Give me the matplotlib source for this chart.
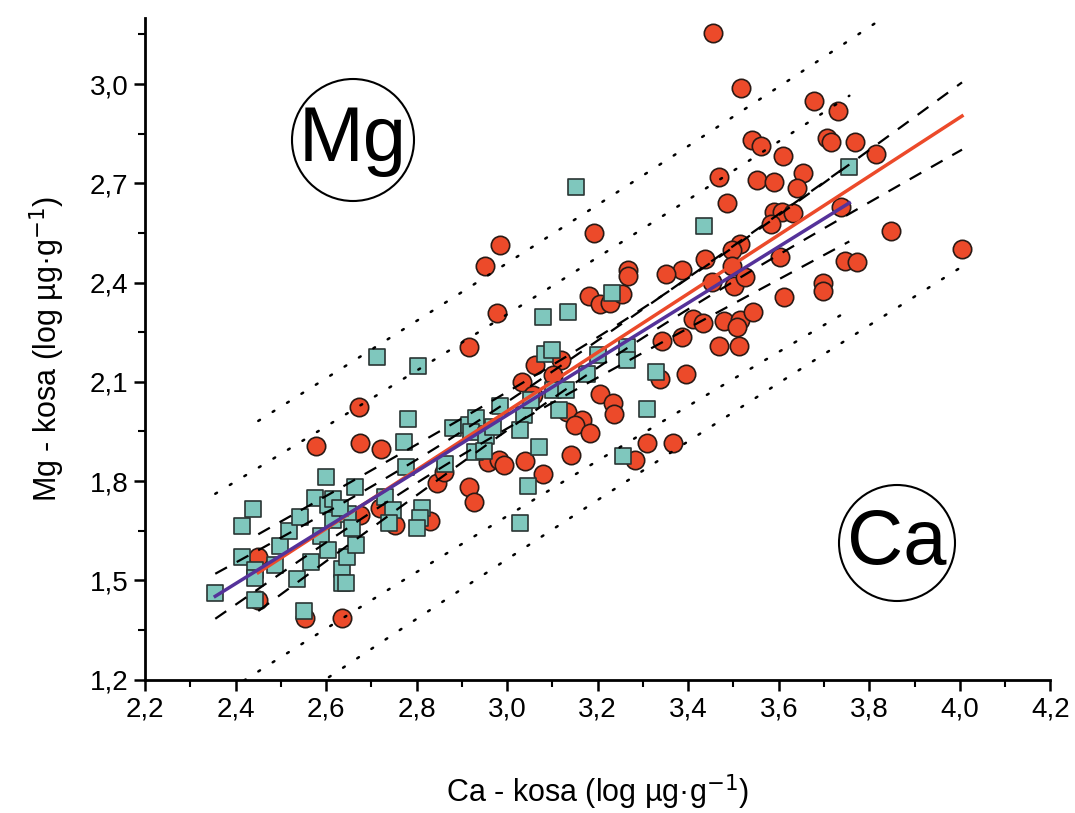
import numpy as np
import matplotlib.pyplot as plt
from matplotlib.patches import Circle
from matplotlib.ticker import MultipleLocator, FuncFormatter

# red circles: Ca (x), Mg (y), log ug/g
ca_circ = [2.673, 2.578, 2.675, 2.721, 2.450, 2.450, 2.554, 2.635, 2.675, 2.718,
           2.752, 2.977, 2.916, 3.062, 3.119, 3.102, 3.032, 3.057, 3.132, 3.165,
           3.150, 3.182, 3.204, 3.233, 3.235, 2.957, 2.981, 2.993, 3.040, 3.079,
           3.141, 3.283, 3.310, 3.367, 2.844, 2.861, 2.915, 2.926, 2.830, 3.342,
           3.485, 3.589, 3.607, 3.631, 3.583, 3.515, 3.496, 3.438, 3.386, 3.351,
           3.266, 3.266, 3.496, 3.452, 3.502, 3.526, 3.602, 3.698, 3.698, 3.611,
           3.180, 3.204, 3.228, 3.253, 3.191, 3.410, 3.432, 3.478, 3.515, 3.507,
           3.544, 3.386, 3.467, 3.513, 3.396, 3.337, 3.454, 3.517, 3.678, 3.732,
           3.541, 3.561, 3.706, 3.716, 3.609, 3.467, 3.552, 3.590, 3.653, 3.640,
           3.768, 3.815, 3.737, 3.849, 4.005, 3.747, 3.773, 2.985, 2.950]
mg_circ = [2.024, 1.906, 1.914, 1.896, 1.570, 1.441, 1.386, 1.386, 1.697, 1.718,
           1.667, 2.308, 2.205, 2.150, 2.167, 2.122, 2.100, 2.061, 2.009, 1.986,
           1.969, 1.946, 2.064, 2.036, 2.004, 1.859, 1.863, 1.850, 1.861, 1.821,
           1.878, 1.865, 1.916, 1.916, 1.793, 1.828, 1.783, 1.738, 1.680, 2.225,
           2.642, 2.612, 2.614, 2.609, 2.577, 2.518, 2.498, 2.471, 2.438, 2.426,
           2.438, 2.421, 2.451, 2.403, 2.391, 2.418, 2.478, 2.398, 2.376, 2.356,
           2.358, 2.334, 2.338, 2.366, 2.549, 2.290, 2.277, 2.285, 2.288, 2.266,
           2.312, 2.237, 2.207, 2.207, 2.123, 2.109, 3.155, 2.987, 2.950, 2.920,
           2.830, 2.813, 2.836, 2.825, 2.783, 2.718, 2.710, 2.704, 2.730, 2.685,
           2.824, 2.790, 2.627, 2.555, 2.501, 2.466, 2.461, 2.514, 2.451]

# teal squares
ca_sq = [2.355, 2.414, 2.439, 2.414, 2.443, 2.442, 2.443, 2.486, 2.498, 2.518,
         2.543, 2.535, 2.552, 2.566, 2.576, 2.600, 2.589, 2.605, 2.616, 2.615,
         2.605, 2.635, 2.635, 2.644, 2.647, 2.649, 2.666, 2.657, 2.664, 2.730,
         2.747, 2.738, 2.771, 2.777, 2.781, 2.811, 2.808, 2.800, 3.079, 3.135,
         2.804, 2.881, 2.915, 2.931, 2.920, 2.954, 2.968, 2.985, 2.929, 2.949,
         2.863, 3.038, 3.029, 3.053, 3.047, 3.029, 3.071, 3.084, 3.099, 3.101,
         3.130, 3.115, 3.176, 3.200, 3.265, 3.265, 3.329, 3.309, 3.257, 3.434,
         3.231, 3.152, 2.712, 3.756, 2.631]
mg_sq = [1.462, 1.665, 1.715, 1.570, 1.532, 1.507, 1.441, 1.547, 1.605, 1.649,
         1.692, 1.504, 1.409, 1.555, 1.748, 1.811, 1.634, 1.728, 1.745, 1.682,
         1.592, 1.534, 1.491, 1.491, 1.572, 1.701, 1.607, 1.657, 1.781, 1.753,
         1.713, 1.674, 1.917, 1.843, 1.987, 1.718, 1.688, 1.657, 2.297, 2.310,
         2.147, 1.961, 1.969, 1.992, 1.949, 1.936, 1.964, 2.026, 1.888, 1.891,
         1.853, 1.999, 1.954, 2.046, 1.785, 1.674, 1.904, 2.185, 2.195, 2.076,
         2.074, 2.016, 2.123, 2.180, 2.205, 2.165, 2.129, 2.019, 1.875, 2.572,
         2.368, 2.688, 2.175, 2.748, 1.718]

x_ticks = [2.2, 2.4, 2.6, 2.8, 3.0, 3.2, 3.4, 3.6, 3.8, 4.0, 4.2]
y_ticks = [1.2, 1.5, 1.8, 2.1, 2.4, 2.7, 3.0]

RED = '#ec4a2a'
TEAL = '#7fc7bd'
PURPLE = '#55329a'
T95 = 1.98


def fit_bands(x, y):
    x = np.asarray(x)
    y = np.asarray(y)
    n = len(x)
    b, a = np.polyfit(x, y, 1)
    s = np.sqrt(np.sum((y - (a + b * x)) ** 2) / (n - 2))
    sxx = np.sum((x - x.mean()) ** 2)
    xx = np.linspace(x.min(), x.max(), 200)
    yy = a + b * xx
    se_c = s * np.sqrt(1 / n + (xx - x.mean()) ** 2 / sxx)
    se_p = s * np.sqrt(1 + 1 / n + (xx - x.mean()) ** 2 / sxx)
    return xx, yy, T95 * se_c, T95 * se_p


plt.rcParams['font.family'] = ['Liberation Sans', 'DejaVu Sans']

fig = plt.figure(figsize=(10.75, 8.13), dpi=100)
ax = fig.add_axes([0.135, 0.164, 0.842, 0.814])

ax.scatter(ca_circ, mg_circ, s=175, marker='o', facecolor=RED,
           edgecolor='#2a1a15', linewidth=1.2, zorder=2)
ax.scatter(ca_sq, mg_sq, s=145, marker='s', facecolor=TEAL,
           edgecolor='#2a3533', linewidth=1.2, zorder=3)

for xs, ys, col in [(ca_circ, mg_circ, RED), (ca_sq, mg_sq, PURPLE)]:
    xx, yy, c, p = fit_bands(xs, ys)
    for sign in (1, -1):
        ax.plot(xx, yy + sign * c, color='black', lw=1.6,
                dashes=(6, 5), zorder=4)
        ax.plot(xx, yy + sign * p, color='black', lw=1.8,
                dashes=(0.8, 6), dash_capstyle='round', zorder=4)
    ax.plot(xx, yy, color=col, lw=2.5, zorder=5)

ax.set_xlim(2.2, 4.2)
ax.set_ylim(1.2, 3.2)
ax.set_xticks(x_ticks)
ax.set_yticks(y_ticks)
ax.xaxis.set_minor_locator(MultipleLocator(0.1))
ax.yaxis.set_minor_locator(MultipleLocator(0.15))
fmt = FuncFormatter(lambda v, pos: f'{v:.1f}'.replace('.', ','))
ax.xaxis.set_major_formatter(fmt)
ax.yaxis.set_major_formatter(fmt)

for side in ('top', 'right'):
    ax.spines[side].set_visible(False)
for side in ('left', 'bottom'):
    ax.spines[side].set_linewidth(2)
ax.tick_params(which='major', direction='out', length=8, width=1.8,
               labelsize=20, pad=4)
ax.tick_params(which='minor', direction='out', length=5, width=1.5)
for lab in ax.get_xticklabels():
    lab.set_family(['Liberation Sans Narrow', 'Liberation Sans'])

ax.set_xlabel('Ca - kosa (log µg·g$^{-1}$)', fontsize=22, labelpad=36,
              family=['Liberation Sans Narrow', 'Liberation Sans'])
ax.set_ylabel('Mg - kosa (log µg·g$^{-1}$)', fontsize=22, labelpad=16)

# circled element labels, placed in pixel (inch) space
for label, cx, cy, r in [('Mg', 3.53, 6.73, 0.61), ('Ca', 8.97, 2.70, 0.58)]:
    fig.add_artist(Circle((cx, cy), r, transform=fig.dpi_scale_trans,
                          facecolor='none', edgecolor='black', lw=1.5))
    fig.text(cx, cy, label, transform=fig.dpi_scale_trans, fontsize=56,
             ha='center', va='center')

fig.savefig('out.png', dpi=100)
